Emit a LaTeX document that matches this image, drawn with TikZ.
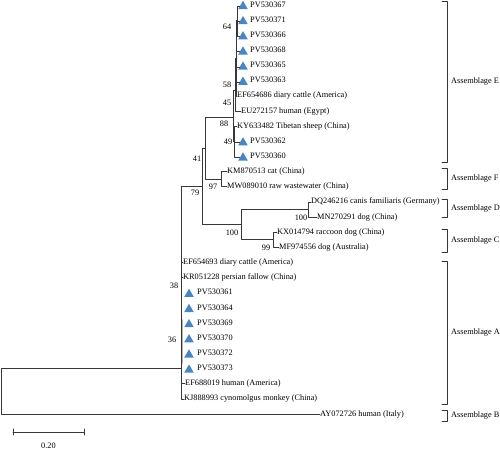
\documentclass[tikz,border=0pt]{standalone}
\usepackage{fontspec}
\setmainfont{Liberation Serif}
\usetikzlibrary{shapes.geometric}
\definecolor{triblue}{RGB}{72,133,197}
\definecolor{treeline}{RGB}{55,55,55}

\begin{document}
\begin{tikzpicture}[line cap=round,line join=round,x=1pt,y=-1pt,
  taxon/.style={anchor=west,inner sep=0pt,font=\fontsize{8.3}{9}\selectfont,text height=5.5pt,text depth=1.5pt},
  boot/.style={inner sep=0pt,font=\fontsize{8.3}{9}\selectfont},
  tri/.style={regular polygon,regular polygon sides=3,fill=triblue,inner sep=0pt,minimum size=11pt},
  branch/.style={line width=0.8pt,draw=treeline},
  zerobranch/.style={branch,shorten >=4.5pt}]

\useasboundingbox (0,0) rectangle (500,450);

\foreach \id/\r in {367/0,371/1,366/2,368/3,365/4,363/5,362/9,360/10} {
  \node[tri] (pv\id) at (243,{5+15.15*\r+1.3}) {};
  \node[taxon] at (250,{5+15.15*\r}) {PV530\id};
}
\foreach \id/\r in {361/19,364/20,369/21,370/22,372/23,373/24} {
  \node[tri] (pv\id) at (189,{5+15.15*\r+1.3}) {};
  \node[taxon] at (197,{5+15.15*\r}) {PV530\id};
}

\node[taxon] (ef686) at (237,95.9) {EF654686 diary cattle (America)};
\node[taxon] (eu157) at (241,111.05) {EU272157 human (Egypt)};
\node[taxon] (ky482) at (237,126.2) {KY633482 Tibetan sheep (China)};
\node[taxon] (km513) at (227,171.65) {KM870513 cat (China)};
\node[taxon] (mw010) at (227,186.8) {MW089010 raw wastewater (China)};
\node[taxon] (dq216) at (311,201.95) {DQ246216 canis familiaris (Germany)};
\node[taxon] (mn291) at (317,217.1) {MN270291 dog (China)};
\node[taxon] (kx794) at (277,232.25) {KX014794 raccoon dog (China)};
\node[taxon] (mf556) at (279,247.4) {MF974556 dog (Australia)};
\node[taxon] (ef693) at (183,262.55) {EF654693 diary cattle (America)};
\node[taxon] (kr228) at (183,277.7) {KR051228 persian fallow (China)};
\node[taxon] (ef019) at (185,383.75) {EF688019 human (America)};
\node[taxon] (kj993) at (184,398.9) {KJ888993 cynomolgus monkey (China)};
\node[taxon] (ay726) at (320,414.05) {AY072726 human (Italy)};

\coordinate (root) at (1,391);
\coordinate (nA) at (181,368);
\coordinate (n79) at (202,186.4);
\coordinate (n41) at (205,148.1);
\coordinate (nE) at (233,117);
\coordinate (n45) at (235,90);
\coordinate (n58) at (236,58);
\coordinate (n64) at (237.5,20);
\coordinate (n49) at (234,141.35);
\coordinate (nF) at (221,179.2);
\coordinate (nDC) at (241,224.7);
\coordinate (nD) at (308,209.5);
\coordinate (nC) at (273,239.8);
\coordinate (nAg1) at (182.5,320);
\coordinate (nAg2) at (182.5,363);

\draw[branch] (root) |- (nA);
\draw[branch] (root) |- (ay726.west);
\draw[branch] (nA) |- (n79);
\draw[branch] (nA) |- (ef693.west);
\draw[branch] (nA) |- (kr228.west);
\draw[branch] (nA) |- (ef019.west);
\draw[branch] (nA) |- (kj993.west);
\foreach \id in {361,364,369,370,372,373}
  \draw[zerobranch] (nA) |- (pv\id.west);
\draw[gray!60,line width=1.8pt] (nAg1) -- (nAg2);
\draw[branch] (n79) |- (n41);
\draw[branch] (n79) |- (nDC);
\draw[branch] (n41) |- (nE);
\draw[branch] (n41) |- (nF);
\draw[branch] (nF) |- (km513.west);
\draw[branch] (nF) |- (mw010.west);
\draw[branch] (nDC) |- (nD);
\draw[branch] (nDC) |- (nC);
\draw[branch] (nD) |- (dq216.west);
\draw[branch] (nD) |- (mn291.west);
\draw[branch] (nC) |- (kx794.west);
\draw[branch] (nC) |- (mf556.west);
\draw[branch] (nE) |- (n45);
\draw[branch] (nE) |- (n49);
\draw[branch] (n45) |- (n58);
\draw[branch] (n45) |- (eu157.west);
\draw[branch] (n58) |- (n64);
\draw[branch] (n58) |- (ef686.west);
\foreach \id in {368,365,363}
  \draw[branch] (n58) |- (pv\id.west);
\foreach \id in {367,371,366}
  \draw[branch] (n64) |- (pv\id.west);
\draw[branch] (n49) |- (ky482.west);
\draw[branch] (n49) |- (pv362.west);
\draw[branch] (n49) |- (pv360.west);

\node[boot] at (227,27) {64};
\node[boot] at (227,85) {58};
\node[boot] at (227,103) {45};
\node[boot] at (224,124) {88};
\node[boot] at (228,142) {49};
\node[boot] at (197,159) {41};
\node[boot] at (213,187) {97};
\node[boot] at (195,193) {79};
\node[boot] at (301,218) {100};
\node[boot] at (232,233) {100};
\node[boot] at (266,248) {99};
\node[boot] at (174,286) {38};
\node[boot] at (172,340) {36};

\foreach \t/\b/\grp in {1/162/E,168/189/F,199/217/D,229/252/C,261/404/A,410/421/B} {
  \draw[branch,line width=0.7pt] (442,\t) -- (447,\t) -- (447,\b) -- (442,\b);
  \node[taxon] (as\grp) at (451,{(\t+\b)/2}) {Assemblage \grp};
}

\coordinate (sb1) at (13,432);
\coordinate (sb2) at (84,432);
\draw[branch] (sb1) -- (sb2);
\draw[branch] ([yshift=3pt]sb1) -- ([yshift=-3pt]sb1);
\draw[branch] ([yshift=3pt]sb2) -- ([yshift=-3pt]sb2);
\node[boot] at (48.5,446) {0.20};
\end{tikzpicture}
\end{document}
